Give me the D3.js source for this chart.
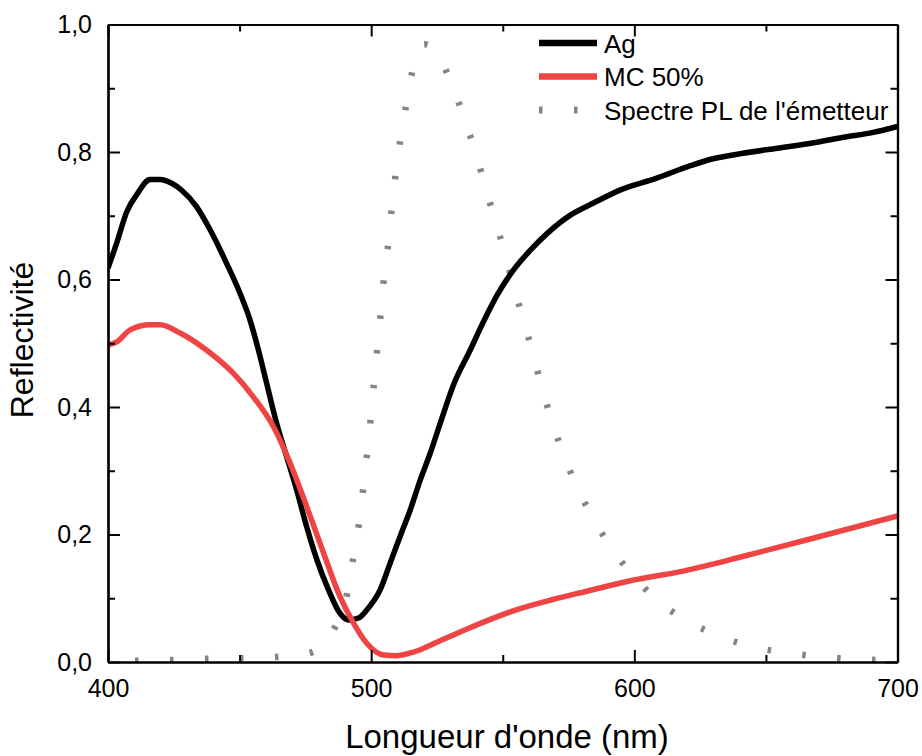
<!DOCTYPE html>
<html>
<head>
<meta charset="utf-8">
<script src="https://cdn.jsdelivr.net/npm/d3@7"></script>
<style>
  html, body { margin: 0; padding: 0; background: #fff; }
  svg { display: block; font-family: "Liberation Sans", Arial, sans-serif; }
</style>
</head>
<body>
<svg id="chart" width="922" height="756"></svg>
<script>
// ---- data ----
const agWavelength = [400, 403.3, 407.1, 410.9, 416, 419.8, 424.2, 428, 433.7, 438.8, 445.1, 450.2, 454, 457, 460.3, 464.1, 467.9, 471.7, 475.5, 479.4, 483.8, 488.2, 491.4, 495.2, 498.4, 503.4, 507.2, 511, 514.8, 518.6, 522.4, 526.2, 531.3, 537.6, 542.7, 547.8, 554.1, 560.5, 566.8, 575.7, 584.5, 595, 608.5, 621.6, 629.5, 641.3, 654.4, 667.6, 680.7, 689.9, 700];
const agReflectivity = [0.618, 0.657, 0.706, 0.733, 0.757, 0.757, 0.751, 0.740, 0.714, 0.678, 0.625, 0.578, 0.536, 0.492, 0.437, 0.374, 0.322, 0.270, 0.212, 0.160, 0.113, 0.076, 0.066, 0.069, 0.082, 0.113, 0.155, 0.197, 0.238, 0.285, 0.327, 0.374, 0.435, 0.489, 0.534, 0.575, 0.615, 0.646, 0.672, 0.701, 0.720, 0.741, 0.759, 0.779, 0.789, 0.798, 0.806, 0.814, 0.824, 0.830, 0.840];

const mcWavelength = [400, 403.3, 408.4, 416, 419.8, 427.4, 437.5, 447.6, 455.2, 462.9, 469.2, 475.5, 481.9, 488.2, 493.3, 498.4, 504.7, 509.8, 516.4, 526, 536, 546, 556, 569, 582, 598, 619, 642.6, 671.5, 700];
const mcReflectivity = [0.497, 0.502, 0.521, 0.529, 0.529, 0.516, 0.489, 0.453, 0.416, 0.369, 0.312, 0.244, 0.171, 0.102, 0.061, 0.029, 0.011, 0.010, 0.016, 0.033, 0.051, 0.068, 0.083, 0.098, 0.111, 0.127, 0.143, 0.167, 0.198, 0.229];

const plWavelength = [400, 409.5, 423.2, 436.9, 450.2, 463.5, 476.4, 486.3, 490.9, 493.2, 495.4, 497.0, 498.5, 499.9, 501.1, 502.4, 503.7, 504.9, 506.6, 507.9, 509.5, 511.3, 513.6, 516.1, 520.2, 524.3, 530.3, 535.1, 539.3, 543.0, 546.8, 550.6, 554.1, 557.9, 561.5, 564.9, 568.7, 573.1, 578.2, 583.8, 590.4, 598.6, 607.8, 619.4, 632.1, 645.0, 658.4, 671.9, 685.3, 698.7, 700];
const plIntensity = [0.002, 0.002, 0.003, 0.005, 0.006, 0.008, 0.014, 0.055, 0.108, 0.163, 0.218, 0.273, 0.328, 0.384, 0.439, 0.495, 0.550, 0.605, 0.660, 0.715, 0.771, 0.825, 0.880, 0.935, 0.969, 0.960, 0.909, 0.856, 0.804, 0.751, 0.697, 0.644, 0.590, 0.536, 0.483, 0.430, 0.377, 0.326, 0.274, 0.230, 0.184, 0.140, 0.100, 0.066, 0.041, 0.024, 0.014, 0.008, 0.004, 0.003, 0.003];

const xTicks = [400, 500, 600, 700];
const xTickLabels = ["400", "500", "600", "700"];
const xMinorTicks = [450, 550, 650];
const yTicks = [0, 0.2, 0.4, 0.6, 0.8, 1.0];
const yTickLabels = ["0,0", "0,2", "0,4", "0,6", "0,8", "1,0"];
const yMinorTicks = [0.1, 0.3, 0.5, 0.7, 0.9];

const seriesNames = ["Ag", "MC 50%", "Spectre PL de l'émetteur"];
const xTitle = "Longueur d'onde (nm)";
const yTitle = "Reflectivité";

// ---- layout ----
const pLeft = 108, pRight = 897.5, pTop = 24.5, pBottom = 662;
const svg = d3.select("#chart");
const x = d3.scaleLinear().domain([400, 700]).range([pLeft, pRight]);
const y = d3.scaleLinear().domain([0, 1]).range([pBottom, pTop]);

svg.append("defs").append("clipPath").attr("id", "plotclip")
  .append("rect").attr("x", pLeft).attr("y", pTop).attr("width", pRight - pLeft).attr("height", pBottom - pTop);

const RED = "#ef4444", GRAY = "#858585";

const toPts = (xs, ys) => xs.map((d, i) => [d, ys[i]]);
const smooth = d3.line().x(d => x(d[0])).y(d => y(d[1])).curve(d3.curveMonotoneX);

const plot = svg.append("g").attr("clip-path", "url(#plotclip)");

plot.append("path").datum(toPts(plWavelength, plIntensity))
  .attr("d", smooth).attr("fill", "none").attr("stroke", GRAY)
  .attr("stroke-width", 6.5).attr("stroke-dasharray", "3.5,31.5").attr("stroke-dashoffset", 8);

plot.append("path").datum(toPts(agWavelength, agReflectivity))
  .attr("d", smooth).attr("fill", "none").attr("stroke", "#000")
  .attr("stroke-width", 5.5).attr("stroke-linejoin", "round");

plot.append("path").datum(toPts(mcWavelength, mcReflectivity))
  .attr("d", smooth).attr("fill", "none").attr("stroke", RED)
  .attr("stroke-width", 5.5).attr("stroke-linejoin", "round");

// ---- axes ----
function styleAxis(g) {
  g.selectAll("path.domain").attr("stroke", "#000").attr("stroke-width", 2.2);
  g.selectAll(".tick line").attr("stroke", "#000").attr("stroke-width", 2);
  g.selectAll("text").attr("fill", "#000").attr("font-size", 25)
    .attr("font-family", "'Liberation Sans', Arial, sans-serif");
}
const fx = d => xTickLabels[xTicks.indexOf(d)];
const fy = d => yTickLabels[yTicks.indexOf(d)];

svg.append("g").attr("transform", `translate(0,${pBottom})`)
  .call(d3.axisBottom(x).tickValues(xMinorTicks).tickSize(-7).tickSizeOuter(0).tickFormat(""))
  .call(styleAxis);
svg.append("g").attr("transform", `translate(0,${pBottom})`)
  .call(d3.axisBottom(x).tickValues(xTicks).tickSize(-12).tickSizeOuter(0).tickPadding(17).tickFormat(fx))
  .call(styleAxis);
svg.append("g").attr("transform", `translate(0,${pTop})`)
  .call(d3.axisTop(x).tickValues(xMinorTicks).tickSize(-7).tickSizeOuter(0).tickFormat(""))
  .call(styleAxis);
svg.append("g").attr("transform", `translate(0,${pTop})`)
  .call(d3.axisTop(x).tickValues(xTicks).tickSize(-12).tickSizeOuter(0).tickFormat(""))
  .call(styleAxis);

svg.append("g").attr("transform", `translate(${pLeft},0)`)
  .call(d3.axisLeft(y).tickValues(yMinorTicks).tickSize(-7).tickSizeOuter(0).tickFormat(""))
  .call(styleAxis);
svg.append("g").attr("transform", `translate(${pLeft},0)`)
  .call(d3.axisLeft(y).tickValues(yTicks).tickSize(-12).tickSizeOuter(0).tickPadding(16).tickFormat(fy))
  .call(styleAxis);
svg.append("g").attr("transform", `translate(${pRight},0)`)
  .call(d3.axisRight(y).tickValues(yMinorTicks).tickSize(-7).tickSizeOuter(0).tickFormat(""))
  .call(styleAxis);
svg.append("g").attr("transform", `translate(${pRight},0)`)
  .call(d3.axisRight(y).tickValues(yTicks).tickSize(-12).tickSizeOuter(0).tickFormat(""))
  .call(styleAxis);

// ---- titles ----
svg.append("text").attr("x", 507).attr("y", 748).attr("text-anchor", "middle")
  .attr("font-size", 33).attr("fill", "#000").text(xTitle);
svg.append("text").attr("transform", `translate(33,340) rotate(-90)`).attr("text-anchor", "middle")
  .attr("font-size", 32).attr("fill", "#000").text(yTitle);

// ---- legend ----
const legendRows = [
  { name: seriesNames[0], color: "#000", dash: null, width: 6.5 },
  { name: seriesNames[1], color: RED, dash: null, width: 6.5 },
  { name: seriesNames[2], color: GRAY, dash: "3.5,31.5", width: 7 }
];
const leg = svg.append("g");
legendRows.forEach((r, i) => {
  const cy = 43 + i * 33.5;
  const ln = leg.append("line").attr("x1", 539).attr("x2", 597).attr("y1", cy).attr("y2", cy)
    .attr("stroke", r.color).attr("stroke-width", r.width);
  if (r.dash) ln.attr("stroke-dasharray", r.dash);
  leg.append("text").attr("x", 604).attr("y", cy + 9.5).attr("font-size", 26).attr("fill", "#000").text(r.name);
});
</script>
</body>
</html>
